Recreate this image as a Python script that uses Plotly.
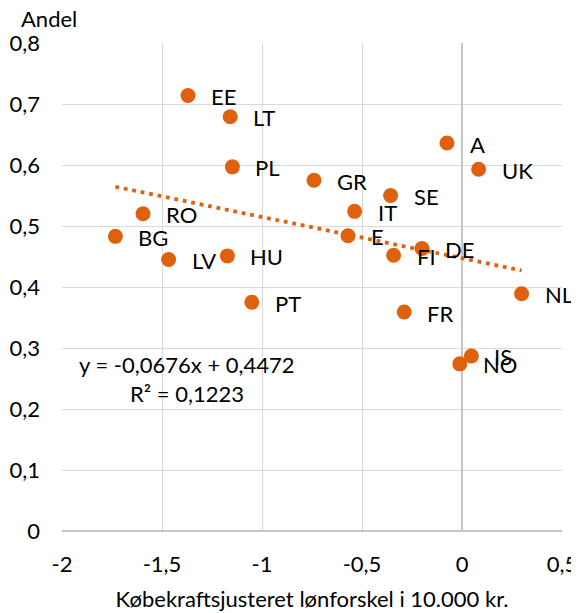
import plotly.graph_objects as go

# country codes, wage gap (x) and share (y)
countries = ["EE", "LT", "PL", "GR", "RO", "BG", "LV", "HU", "PT",
             "A", "UK", "SE", "IT", "E", "FI", "DE", "NL", "FR", "IS", "NO"]
wage_gap = [-1.37, -1.159, -1.148, -0.74, -1.595, -1.733, -1.467, -1.173, -1.051,
            -0.075, 0.083, -0.357, -0.537, -0.57, -0.342, -0.20, 0.298, -0.289, 0.047, -0.011]
share = [0.714, 0.679, 0.597, 0.575, 0.520, 0.483, 0.445, 0.451, 0.375,
         0.636, 0.593, 0.550, 0.524, 0.484, 0.452, 0.463, 0.389, 0.359, 0.287, 0.274]

# Excel trendline coefficients
slope = -0.0676
intercept = 0.4472
r2 = 0.1223

x_ticks = [-2, -1.5, -1, -0.5, 0, 0.5]
x_ticklabels = ["-2", "-1,5", "-1", "-0,5", "0", "0,5"]
y_ticks = [0, 0.1, 0.2, 0.3, 0.4, 0.5, 0.6, 0.7, 0.8]
y_ticklabels = ["0", "0,1", "0,2", "0,3", "0,4", "0,5", "0,6", "0,7", "0,8"]

orange = "#DF610D"
font_family = "Lato, 'Open Sans', sans-serif"
fsize = 22

# page body has an 8px margin, so the figure starts at (8, 8)
off = 8
W, H = 579 - off, 613 - off
plot_l, plot_r, plot_t, plot_b = 62 - off, 579 - 562.5, 42.7 - off, 613 - 530.7
plot_w = W - plot_l - plot_r
plot_h = H - plot_t - plot_b


def px_to_paper(px, py):
    # absolute page pixels -> paper coordinates
    return (px - off - plot_l) / plot_w, 1 - (py - off - plot_t) / plot_h


fig = go.Figure()

# trendline across the data range
x_lo, x_hi = min(wage_gap), max(wage_gap)
fig.add_trace(
    go.Scatter(
        x=[x_lo, x_hi],
        y=[slope * x_lo + intercept, slope * x_hi + intercept],
        mode="lines",
        line=dict(color=orange, width=3.8, dash="3.8px,4.8px"),
        hoverinfo="skip",
        showlegend=False,
    )
)

fig.add_trace(
    go.Scatter(
        x=wage_gap,
        y=share,
        mode="markers",
        marker=dict(color=orange, size=15, line=dict(width=0)),
        text=countries,
        hovertemplate="%{text}: %{x}, %{y}<extra></extra>",
        showlegend=False,
    )
)

annotations = []
for c, xv, yv in zip(countries, wage_gap, share):
    annotations.append(
        dict(
            x=xv, y=yv, xref="x", yref="y",
            text=c,
            showarrow=False,
            xanchor="left", yanchor="middle",
            xshift=21, yshift=-1,
            font=dict(size=fsize, color="black"),
        )
    )

ax, ay = px_to_paper(19, 18)
annotations.extend(
    [
        dict(
            x=-1.375, y=0.273, xref="x", yref="y",
            text="y = -0,0676x + 0,4472",
            showarrow=False, xanchor="center", yanchor="middle",
            font=dict(size=fsize, color="black"),
        ),
        dict(
            x=-1.375, y=0.225, xref="x", yref="y",
            text="R² = " + str(r2).replace(".", ","),
            showarrow=False, xanchor="center", yanchor="middle",
            font=dict(size=fsize, color="black"),
        ),
        dict(
            x=ax, y=ay, xref="paper", yref="paper",
            text="Andel",
            showarrow=False, xanchor="left", yanchor="middle",
            font=dict(size=fsize, color="black"),
        ),
    ]
)

fig.update_xaxes(
    range=[-2, 0.5],
    tickvals=x_ticks,
    ticktext=x_ticklabels,
    showgrid=True,
    gridcolor="#D9D9D9",
    gridwidth=1.2,
    zeroline=True,
    zerolinecolor="#C4C4C4",
    zerolinewidth=1.5,
    showline=False,
    ticks="",
    ticklabelstandoff=18,
    tickfont=dict(size=fsize, color="black"),
    title=dict(
        text="Købekraftsjusteret lønforskel i 10.000 kr.",
        font=dict(size=fsize, color="black"),
        standoff=15,
    ),
)
fig.update_yaxes(
    range=[0, 0.8],
    tickvals=y_ticks,
    ticktext=y_ticklabels,
    showgrid=True,
    gridcolor="#D9D9D9",
    gridwidth=1.2,
    zeroline=True,
    zerolinecolor="#C4C4C4",
    zerolinewidth=1.5,
    showline=False,
    ticks="",
    ticklabelstandoff=21,
    tickfont=dict(size=fsize, color="black"),
)

fig.update_layout(
    width=W,
    height=H,
    template="none",
    paper_bgcolor="white",
    plot_bgcolor="white",
    font=dict(family=font_family, size=fsize, color="black"),
    margin=dict(l=plot_l, r=plot_r, t=plot_t, b=plot_b, pad=0),
    annotations=annotations,
    showlegend=False,
)

fig.write_html("out.html")
